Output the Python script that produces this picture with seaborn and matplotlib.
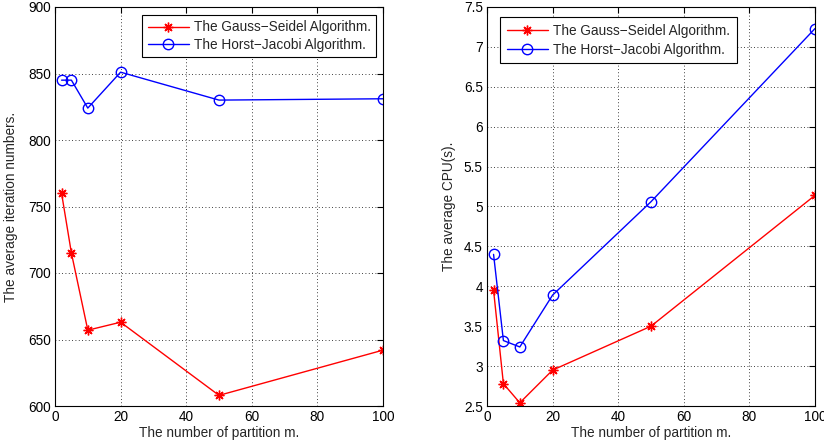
import numpy as np
import pandas as pd
import matplotlib
matplotlib.use("Agg")
import matplotlib.pyplot as plt
import seaborn as sns

# partition sizes m
m_values = [2, 5, 10, 20, 50, 100]

# average iteration numbers
gs_iter = [760, 715, 657, 663, 608, 642]
hj_iter = [845, 845, 824, 851, 830, 831]

# average CPU time (s)
gs_cpu = [3.95, 2.78, 2.54, 2.95, 3.50, 5.14]
hj_cpu = [4.40, 3.32, 3.24, 3.89, 5.06, 7.23]

gs_label = "The Gauss\u2212Seidel Algorithm."
hj_label = "The Horst\u2212Jacobi Algorithm."

sns.set_style("white")
plt.rcParams['font.family'] = ['Liberation Sans', 'DejaVu Sans']
fs = 9.8
plt.rcParams['font.size'] = fs

fig = plt.figure(figsize=(8.24, 4.45), dpi=100)
ax1 = fig.add_axes([55 / 824, 1 - 406 / 445, 328 / 824, 399 / 445])
ax2 = fig.add_axes([487 / 824, 1 - 406 / 445, 328 / 824, 399 / 445])

iter_df = pd.DataFrame({"m": m_values, "gs": gs_iter, "hj": hj_iter})
cpu_df = pd.DataFrame({"m": m_values, "gs": gs_cpu, "hj": hj_cpu})

for ax, df in [(ax1, iter_df), (ax2, cpu_df)]:
    sns.lineplot(data=df, x="m", y="gs", ax=ax, color="red", marker=(8, 2, 0),
                 markersize=7, markeredgecolor="red", markeredgewidth=1.0,
                 linewidth=1.0, label=gs_label)
    sns.lineplot(data=df, x="m", y="hj", ax=ax, color="blue", marker="o",
                 markersize=7.5, markerfacecolor="none", markeredgecolor="blue",
                 markeredgewidth=1.0, linewidth=1.0, label=hj_label)
    ax.set_xlim(0, 100)
    ax.set_xticks([0, 20, 40, 60, 80, 100])
    ax.grid(True, color="black", linestyle=(0, (1, 3)), linewidth=0.6)
    ax.tick_params(direction="in", top=True, right=True, length=4, width=0.8,
                   labelsize=fs, colors="black", pad=3)
    for s in ax.spines.values():
        s.set_color("black")
        s.set_linewidth(0.8)
    ax.set_xlabel("The number of partition m.", labelpad=1, fontsize=fs)

ax1.set_ylim(600, 900)
ax1.set_yticks(np.arange(600, 901, 50))
ax1.set_ylabel("The average iteration numbers.", fontsize=fs)
ax1.yaxis.set_label_coords(-0.112, 0.5)

ax2.set_ylim(2.5, 7.5)
ax2.set_yticks(np.arange(2.5, 7.51, 0.5))
ax2.set_yticklabels(["2.5", "3", "3.5", "4", "4.5", "5", "5.5", "6", "6.5", "7", "7.5"])
ax2.set_ylabel("The average CPU(s).", fontsize=fs)
ax2.yaxis.set_label_coords(-0.095, 0.5)

leg1 = ax1.legend(loc="upper right", bbox_to_anchor=(0.98, 0.98), fancybox=False,
                  edgecolor="black", framealpha=1, fontsize=fs, handlelength=3.0,
                  borderpad=0.4, labelspacing=0.25, handletextpad=0.4,
                  borderaxespad=0)
leg1.get_frame().set_linewidth(0.8)
leg2 = ax2.legend(loc="upper left", bbox_to_anchor=(0.04, 0.975), fancybox=False,
                  edgecolor="black", framealpha=1, fontsize=fs, handlelength=3.0,
                  borderpad=0.5, labelspacing=0.35, handletextpad=0.4,
                  borderaxespad=0)
leg2.get_frame().set_linewidth(0.8)

fig.savefig("out.png", dpi=100)
